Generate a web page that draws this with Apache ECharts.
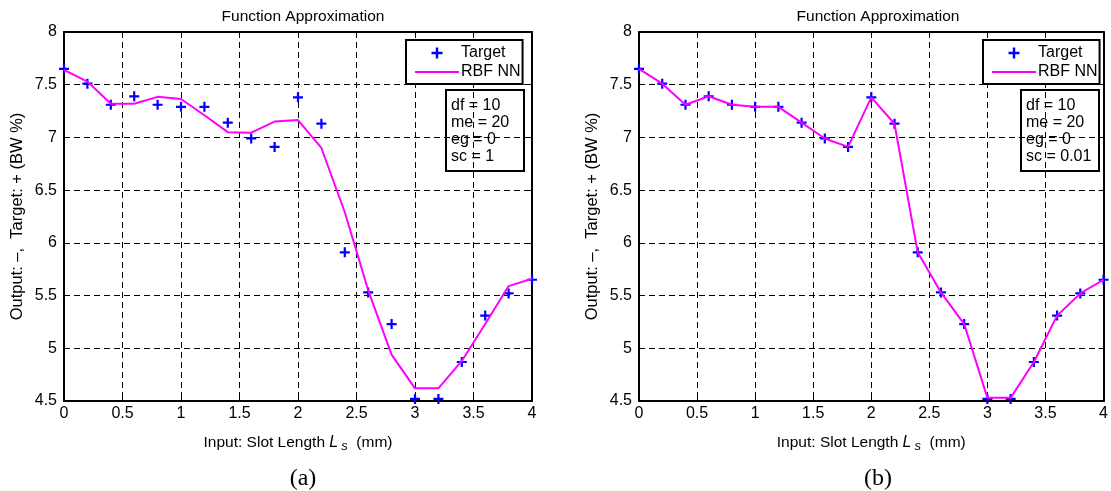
<!DOCTYPE html>
<html>
<head>
<meta charset="utf-8">
<script src="https://cdn.jsdelivr.net/npm/echarts@6/dist/echarts.min.js"></script>
<style>
html,body{margin:0;padding:0;background:#fff;}
#c{width:1111px;height:491px;}
</style>
</head>
<body>
<div id="c"></div>
<script>
// ---- data ----
const xValues = [0, 0.2, 0.4, 0.6, 0.8, 1.0, 1.2, 1.4, 1.6, 1.8, 2.0, 2.2, 2.4, 2.6, 2.8, 3.0, 3.2, 3.4, 3.6, 3.8, 4.0];
const targetValues = [7.65, 7.51, 7.31, 7.39, 7.31, 7.29, 7.29, 7.14, 6.99, 6.91, 7.38, 7.13, 5.91, 5.53, 5.23, 4.52, 4.52, 4.87, 5.31, 5.52, 5.65];
const rbfA = [7.64, 7.53, 7.32, 7.32, 7.385, 7.365, 7.21, 7.05, 7.045, 7.15, 7.165, 6.90, 6.29, 5.55, 4.94, 4.62, 4.62, 4.88, 5.23, 5.59, 5.66];
const rbfB = [7.65, 7.51, 7.31, 7.39, 7.31, 7.29, 7.29, 7.14, 6.99, 6.91, 7.38, 7.13, 5.91, 5.53, 5.23, 4.53, 4.53, 4.87, 5.31, 5.52, 5.65];
const paramsA = ['df = 10', 'me = 20', 'eg = 0', 'sc = 1'];
const paramsB = ['df = 10', 'me = 20', 'eg = 0', 'sc = 0.01'];
const captions = ['(a)', '(b)'];
const titleText = 'Function Approximation';
const xName = 'Input: Slot Length {it|L}{sub|s}  (mm)';
const yName = 'Output: \u2013,  Target: + (BW %)';

// ---- layout ----
const FONT = '"Liberation Sans", Arial, sans-serif';
const plus = 'path://M3.5,0H5.5V3.5H9V5.5H5.5V9H3.5V5.5H0V3.5H3.5Z';
const lineIcon = 'path://M0,0H44V2H0Z';
const grids = [
  {left: 64, top: 32, width: 468, height: 369},
  {left: 639, top: 32, width: 468, height: 369}
];
const pair = (xs, ys) => xs.map((x, i) => [x, ys[i]]);

const xAxes = [], yAxes = [];
grids.forEach((g, gi) => {
  xAxes.push({
    gridIndex: gi, type: 'value', min: 0, max: 4, interval: 0.5, position: 'bottom',
    axisLine: {show: true, onZero: false, lineStyle: {color: '#000', width: 2}},
    axisTick: {show: true, inside: true, length: 5, lineStyle: {color: '#000', width: 1}},
    axisLabel: {color: '#000', fontSize: 16, fontFamily: FONT, margin: 5},
    splitLine: {show: true, lineStyle: {color: '#000', width: 1, type: [6, 4]}},
    name: xName, nameLocation: 'middle', nameGap: 32,
    nameTextStyle: {color: '#000', fontSize: 15.5, fontFamily: FONT,
      rich: {it: {fontStyle: 'italic', fontSize: 16, fontFamily: FONT, color: '#000'},
             sub: {fontStyle: 'italic', fontSize: 13, fontFamily: FONT, color: '#000', padding: [7, 0, 0, 3]}}}
  });
  xAxes.push({
    gridIndex: gi, type: 'value', min: 0, max: 4, interval: 0.5, position: 'top',
    axisLine: {show: true, onZero: false, lineStyle: {color: '#000', width: 2}},
    axisTick: {show: true, inside: true, length: 5, lineStyle: {color: '#000', width: 1}},
    axisLabel: {show: false}, splitLine: {show: false}
  });
  yAxes.push({
    gridIndex: gi, type: 'value', min: 4.5, max: 8, interval: 0.5, position: 'left',
    axisLine: {show: true, onZero: false, lineStyle: {color: '#000', width: 2}},
    axisTick: {show: true, inside: true, length: 5, lineStyle: {color: '#000', width: 1}},
    axisLabel: {color: '#000', fontSize: 16, fontFamily: FONT, margin: 7},
    splitLine: {show: true, lineStyle: {color: '#000', width: 1, type: [6, 4]}},
    name: yName, nameLocation: 'middle', nameGap: 38,
    nameTextStyle: {color: '#000', fontSize: 16.5, fontFamily: FONT}
  });
  yAxes.push({
    gridIndex: gi, type: 'value', min: 4.5, max: 8, interval: 0.5, position: 'right',
    axisLine: {show: true, onZero: false, lineStyle: {color: '#000', width: 2}},
    axisTick: {show: true, inside: true, length: 5, lineStyle: {color: '#000', width: 1}},
    axisLabel: {show: false}, splitLine: {show: false}
  });
});

const series = [];
[rbfA, rbfB].forEach((rbf, gi) => {
  series.push({
    name: 'Target', type: 'scatter', xAxisIndex: gi * 2, yAxisIndex: gi * 2,
    symbol: plus, symbolSize: 10, symbolKeepAspect: true,
    itemStyle: {color: '#0000ff', opacity: 1}, z: 3,
    data: pair(xValues, targetValues)
  });
  series.push({
    name: 'RBF NN', type: 'line', xAxisIndex: gi * 2, yAxisIndex: gi * 2,
    symbol: 'none', showSymbol: false,
    lineStyle: {color: '#ff00ff', width: 2}, itemStyle: {color: '#ff00ff'}, z: 4,
    data: pair(xValues, rbf)
  });
});

const legendLefts = [406, 983];
const legends = legendLefts.map(l => ({
  left: l, top: 40, orient: 'vertical', align: 'left',
  padding: [5, 2, 4, 9], itemGap: 3, itemWidth: 44, itemHeight: 11,
  backgroundColor: '#fff', borderColor: '#000', borderWidth: 2,
  textStyle: {color: '#000', fontSize: 16, fontFamily: FONT, padding: [0, 0, 0, -3]},
  data: [{name: 'Target', icon: plus}, {name: 'RBF NN', icon: lineIcon}]
}));

const titles = [];
grids.forEach((g, gi) => {
  titles.push({text: titleText, left: g.left + g.width / 2, top: 4, textAlign: 'center',
    textStyle: {color: '#000', fontSize: 15.5, fontWeight: 'normal', fontFamily: FONT}});
  titles.push({text: captions[gi], left: g.left + g.width / 2, top: 462, textAlign: 'center',
    textStyle: {color: '#000', fontSize: 24, fontWeight: 'normal', fontFamily: '"Liberation Serif", "Times New Roman", serif'}});
});

const boxes = [{x: 446, p: paramsA}, {x: 1021, p: paramsB}];
const graphic = [];
boxes.forEach(b => {
  graphic.push({type: 'rect', z: 100, shape: {x: b.x, y: 90, width: 78, height: 81},
    style: {fill: 'none', stroke: '#000', lineWidth: 2}});
  graphic.push({type: 'text', z: 101, x: b.x + 5, y: 97,
    style: {text: b.p.join('\n'), fill: '#000', font: '16px ' + FONT, lineHeight: 17}});
});

const chart = echarts.init(document.getElementById('c'), null, {renderer: 'canvas'});
chart.setOption({
  animation: false,
  backgroundColor: '#fff',
  title: titles,
  grid: grids,
  xAxis: xAxes,
  yAxis: yAxes,
  legend: legends,
  series: series,
  graphic: graphic
});
</script>
</body>
</html>
